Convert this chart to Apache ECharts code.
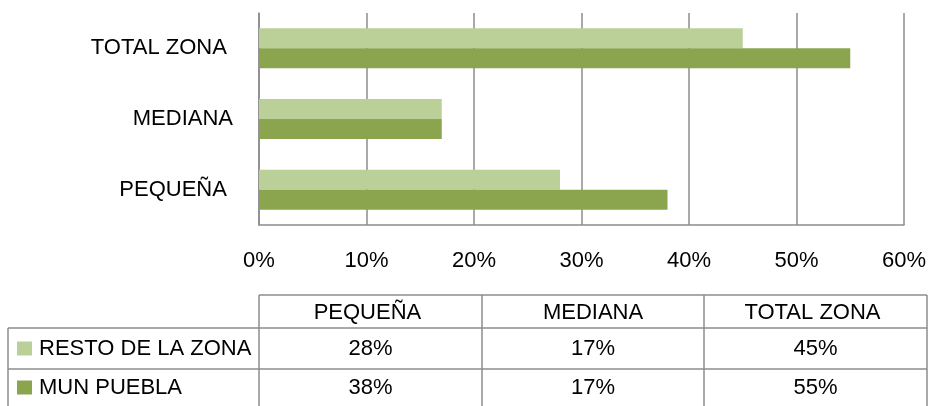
<!DOCTYPE html>
<html>
<head>
<meta charset="utf-8">
<script src="https://cdn.jsdelivr.net/npm/echarts@6/dist/echarts.min.js"></script>
<style>html,body{margin:0;padding:0;background:#fff}#c{width:930px;height:406px}</style>
</head>
<body>
<div id="c"></div>
<script>
var categories = ['PEQUEÑA ', 'MEDIANA', 'TOTAL ZONA '];
var seriesNames = ['RESTO DE LA ZONA', 'MUN PUEBLA'];
var restoValues = [28, 17, 45];
var puebloValues = [38, 17, 55];
var xTicks = [0, 10, 20, 30, 40, 50, 60];

var FONT = 'Liberation Sans';
var FS = 22;
var GRAY = '#8c8c8c';
var colors = ['#BBCF98', '#8AA54E'];

var chart = echarts.init(document.getElementById('c'));

// table layout
var colX = [259, 482, 704, 927];
var rowY = [295, 328, 369, 406];
var leftX = 8;

var g = [];
function line(x1, y1, x2, y2) {
  g.push({type: 'line', shape: {x1: x1, y1: y1, x2: x2, y2: y2}, style: {stroke: GRAY, lineWidth: 1.5}, silent: true});
}
function txt(x, y, s, align) {
  g.push({type: 'text', x: x, y: y, style: {text: s, fill: '#000', font: FS + 'px "' + FONT + '"', textAlign: align || 'center', textVerticalAlign: 'middle'}, silent: true});
}
line(colX[0], rowY[0], colX[3], rowY[0]);
line(leftX, rowY[1], colX[3], rowY[1]);
line(leftX, rowY[2], colX[3], rowY[2]);
for (var i = 0; i < colX.length; i++) line(colX[i], rowY[0], colX[i], rowY[3]);
line(leftX, rowY[1], leftX, rowY[3]);
for (var c = 0; c < categories.length; c++) {
  txt((colX[c] + colX[c + 1]) / 2, (rowY[0] + rowY[1]) / 2 + 1, categories[c]);
}
var rows = [restoValues, puebloValues];
for (var r = 0; r < 2; r++) {
  var cy = (rowY[r + 1] + rowY[r + 2]) / 2;
  g.push({type: 'rect', shape: {x: 17, y: cy - 7, width: 15, height: 14}, style: {fill: colors[r]}, silent: true});
  txt(39, cy, seriesNames[r], 'left');
  for (var c2 = 0; c2 < categories.length; c2++) {
    txt((colX[c2] + colX[c2 + 1]) / 2, cy, rows[r][c2] + '%');
  }
}

chart.setOption({
  animation: false,
  textStyle: {fontFamily: FONT},
  grid: {left: 259, right: 26, top: 13, bottom: 181, containLabel: false},
  xAxis: {
    type: 'value', min: xTicks[0], max: xTicks[xTicks.length - 1], interval: 10,
    axisLine: {show: true, lineStyle: {color: GRAY, width: 1.5}},
    axisTick: {show: false},
    splitLine: {show: true, lineStyle: {color: GRAY, width: 1.5}},
    axisLabel: {formatter: '{value}%', color: '#000', fontSize: FS, fontFamily: FONT, margin: 25}
  },
  yAxis: {
    type: 'category', data: categories,
    axisLine: {show: true, lineStyle: {color: GRAY, width: 1.5}},
    axisTick: {show: false},
    axisLabel: {color: '#000', fontSize: FS, fontFamily: FONT, margin: 26}
  },
  series: [
    {name: seriesNames[0], type: 'bar', data: restoValues, barWidth: 20, barGap: '0%', itemStyle: {color: colors[0]}},
    {name: seriesNames[1], type: 'bar', data: puebloValues, barWidth: 20, barGap: '0%', itemStyle: {color: colors[1]}}
  ],
  graphic: g
});
</script>
</body>
</html>
